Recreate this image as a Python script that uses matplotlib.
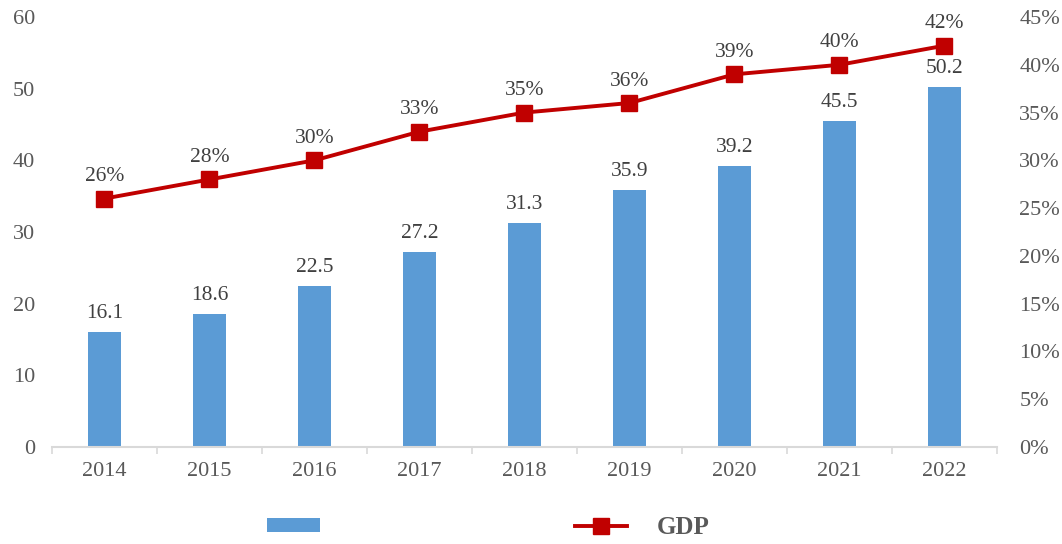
import numpy as np
import matplotlib.pyplot as plt
from matplotlib.ticker import FuncFormatter, FixedLocator

years = ["2014", "2015", "2016", "2017", "2018", "2019", "2020", "2021", "2022"]
scale = [16.1, 18.6, 22.5, 27.2, 31.3, 35.9, 39.2, 45.5, 50.2]
share = [26, 28, 30, 33, 35, 36, 39, 40, 42]  # % of GDP

bar_color = "#5B9BD5"
line_color = "#C00000"
text_color = "#595959"

plt.rcParams["font.family"] = ["Liberation Serif", "Noto Sans CJK SC", "DejaVu Sans"]

fig = plt.figure(figsize=(10.62, 5.44), dpi=100)
ax1 = fig.add_axes([52 / 1062, 1 - 447 / 544, 945 / 1062, 430 / 544])
ax2 = ax1.twinx()

x = np.arange(len(years))
bars = ax1.bar(x, scale, width=0.31, color=bar_color, label=" ", zorder=2)
for xi, v in zip(x, scale):
    ax1.text(xi, v + 1.25, f"{v:.1f}", ha="center", va="bottom", fontsize=15.5, color="#404040")

line, = ax2.plot(x, share, color=line_color, lw=2.8, marker="s", markersize=11, label="GDP", zorder=3)
for xi, v in zip(x, share):
    ax2.text(xi, v + 1.3, f"{v}%", ha="center", va="bottom", fontsize=15.5, color="#404040")

ax1.set_xlim(-0.5, len(years) - 0.5)
ax1.set_ylim(0, 60)
ax2.set_ylim(0, 45)
ax1.set_yticks(range(0, 61, 10))
ax2.set_yticks(range(0, 46, 5))
ax2.yaxis.set_major_formatter(FuncFormatter(lambda v, p: f"{v:.0f}%"))

ax1.set_xticks(x)
ax1.set_xticklabels(years)
ax1.xaxis.set_minor_locator(FixedLocator(np.arange(-0.5, len(years), 1)))
ax1.tick_params(axis="x", which="major", length=0, pad=11, labelsize=16, labelcolor=text_color)
ax1.tick_params(axis="x", which="minor", length=5, color="#D9D9D9", width=1.2)
ax1.tick_params(axis="y", length=0, pad=12, labelsize=16, labelcolor=text_color)
ax2.tick_params(axis="y", length=0, pad=16, labelsize=16, labelcolor=text_color)

for a in (ax1, ax2):
    for s in ("top", "left", "right", "bottom"):
        a.spines[s].set_visible(False)
ax1.spines["bottom"].set_visible(True)
ax1.spines["bottom"].set_color("#D9D9D9")
ax1.spines["bottom"].set_linewidth(1.5)

leg = fig.legend([bars, line], ["", "GDP"], loc="center", ncol=2,
                 bbox_to_anchor=(0.46, 0.031), frameon=False, columnspacing=9.0,
                 handlelength=2.1, handleheight=0.5, handletextpad=1.2,
                 prop={"size": 18, "weight": "bold"})
for t in leg.get_texts():
    t.set_color(text_color)

fig.savefig("out.png", dpi=100)
